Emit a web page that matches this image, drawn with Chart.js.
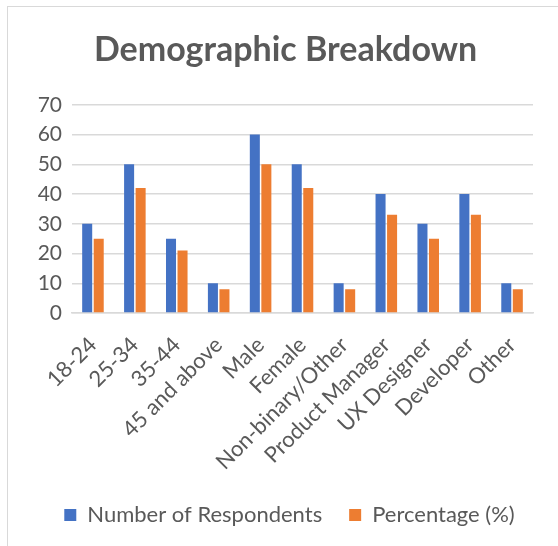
<!DOCTYPE html>
<html>
<head>
<meta charset="utf-8">
<script src="https://cdn.jsdelivr.net/npm/chart.js@4"></script>
<style>
  html, body { margin: 0; padding: 0; background: #fff; }
  #wrap { width: 558px; height: 546px; }
</style>
</head>
<body>
<div id="wrap"><canvas id="demoChart" width="558" height="546"></canvas></div>
<script>
// data
var categories = ["18-24", "25-34", "35-44", "45 and above", "Male", "Female", "Non-binary/Other", "Product Manager", "UX Designer", "Developer", "Other"];
var respondents = [30, 50, 25, 10, 60, 50, 10, 40, 30, 40, 10];
var percentage = [25, 42, 21, 8, 50, 42, 8, 33, 25, 33, 8];
var yTicks = [0, 10, 20, 30, 40, 50, 60, 70];

var textColor = "#595959";
var gridColor = "#D9D9D9";
var fontName = "Lato, 'Open Sans', sans-serif";

// light grey frame like the spreadsheet chart area
var frame = {
     id: 'frame',
     afterLayout: function (chart) {
          // the original chart box is wider than the picture, so title and legend sit a bit right
          chart.titleBlock.left += 14;
          chart.titleBlock.right += 14;
          chart.legend.left += 18;
          chart.legend.right += 18;
     },
     beforeDraw: function (chart) {
          var c = chart.ctx;
          c.save();
          c.fillStyle = "#fff";
          c.fillRect(0, 0, chart.width, chart.height);
          c.strokeStyle = "#D9D9D9";
          c.lineWidth = 1;
          c.strokeRect(7.5, 6.5, chart.width + 10, chart.height + 10);
          c.restore();
     }
};

var ctx = document.getElementById('demoChart').getContext('2d');
var demoChart = new Chart(ctx, {
     type: 'bar',
     data: {
          labels: categories,
          datasets: [{
               label: 'Number of Respondents',
               data: respondents,
               backgroundColor: "#4472C4",
               borderWidth: 0
          }, {
               label: 'Percentage (%)',
               data: percentage,
               backgroundColor: "#ED7D31",
               borderWidth: 0
          }]
     },
     plugins: [frame],
     options: {
          responsive: false,
          animation: false,
          devicePixelRatio: 1,
          categoryPercentage: 0.55,
          barPercentage: 0.87,
          layout: { padding: { left: 10, right: 25, top: 0, bottom: 10 } },
          scales: {
               x: {
                    afterFit: function (axis) { axis.height = 164; },
                    grid: { display: false, drawTicks: false },
                    border: { color: gridColor, width: 1.5 },
                    ticks: {
                         color: textColor,
                         font: { family: fontName, size: 22 },
                         maxRotation: 45,
                         minRotation: 45,
                         autoSkip: false,
                         padding: 19
                    }
               },
               y: {
                    min: 0,
                    max: 70,
                    afterFit: function (axis) { axis.width = 62; },
                    afterBuildTicks: function (axis) {
                         axis.ticks = yTicks.map(function (v) { return { value: v }; });
                    },
                    grid: { color: gridColor, lineWidth: 1.5, drawTicks: false },
                    border: { display: false },
                    ticks: {
                         color: textColor,
                         font: { family: fontName, size: 21 },
                         autoSkip: false,
                         padding: 10
                    }
               }
          },
          plugins: {
               title: {
                    display: true,
                    text: 'Demographic Breakdown',
                    color: textColor,
                    font: { family: fontName, size: 34, weight: 'bold' },
                    padding: { top: 30, bottom: 34 }
               },
               legend: {
                    position: 'bottom',
                    labels: {
                         color: textColor,
                         font: { family: fontName, size: 22 },
                         boxWidth: 12,
                         boxHeight: 12,
                         padding: 27
                    }
               },
               tooltip: { enabled: false }
          }
     }
});
</script>
</body>
</html>
